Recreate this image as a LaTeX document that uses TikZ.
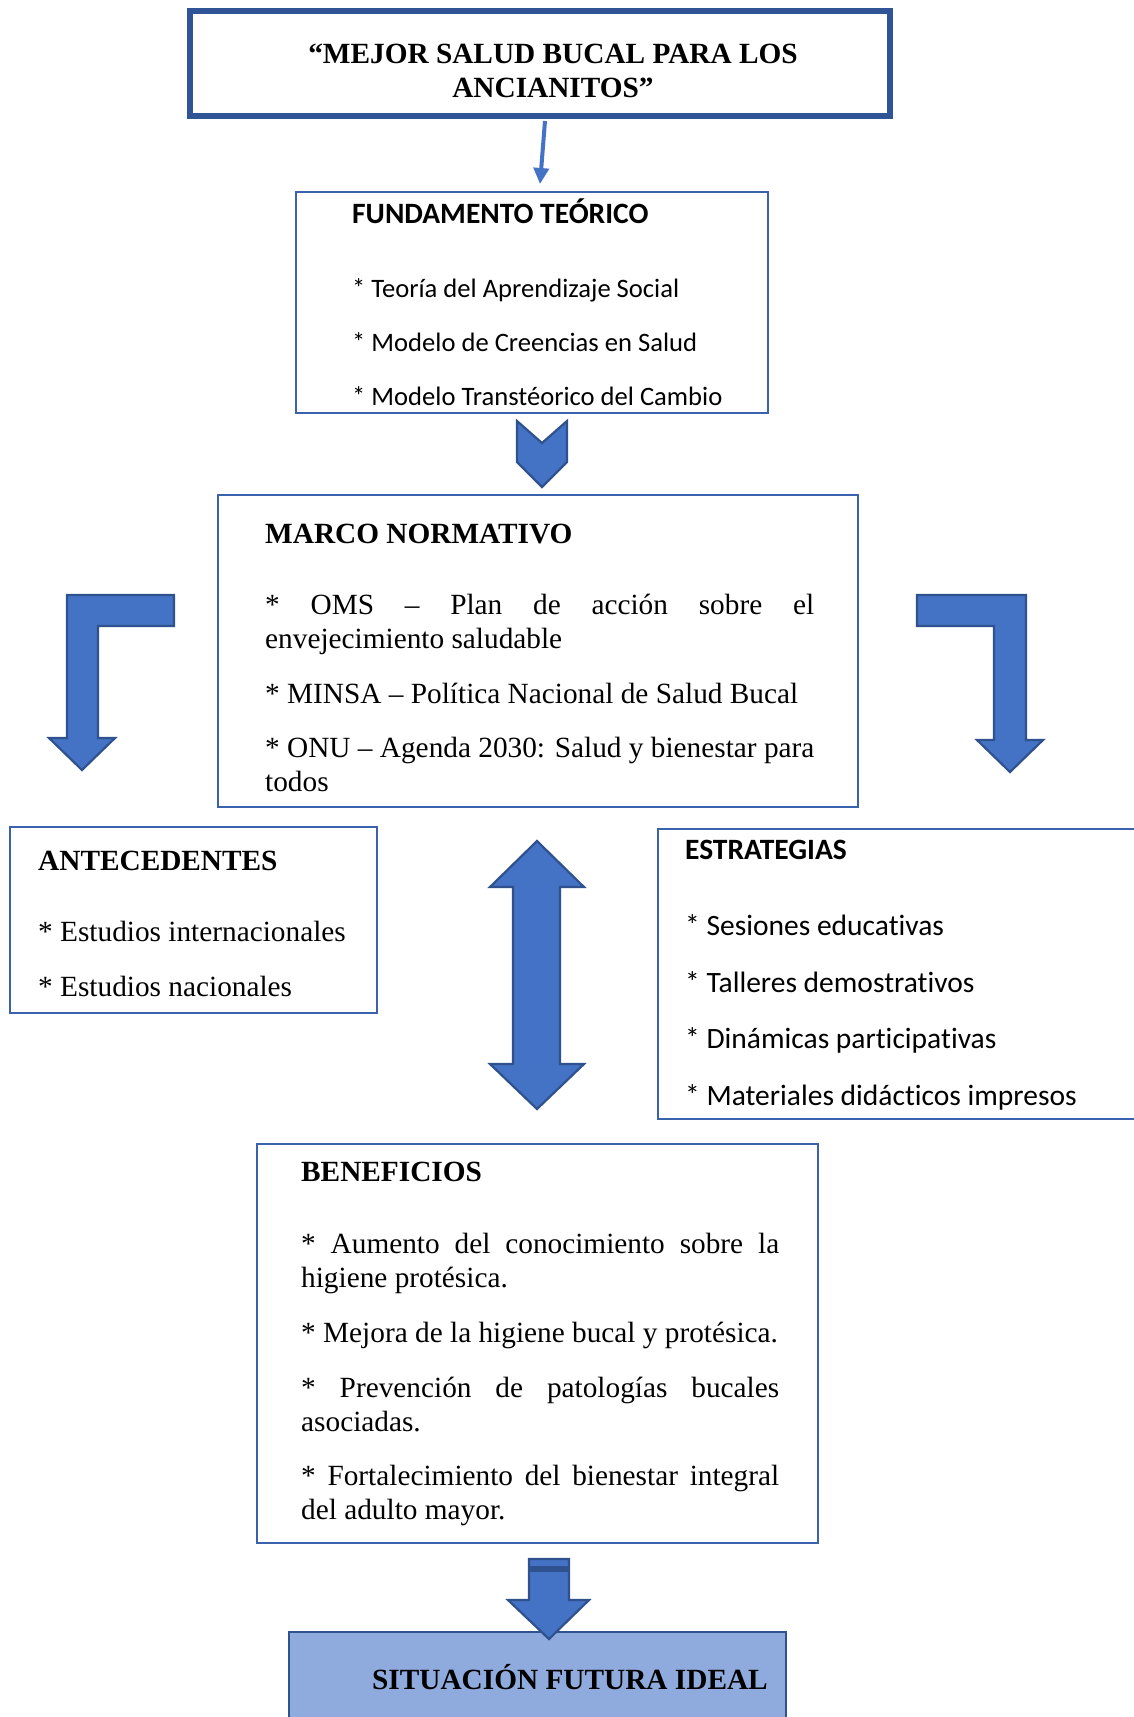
\documentclass[tikz,border=0pt]{standalone}
\usepackage{fontspec}
\setmainfont{Liberation Serif}
\newfontfamily\calibrifont[Ligatures=NoCommon]{Carlito}
\usetikzlibrary{calc,arrows.meta}
\definecolor{arrowblue}{HTML}{4472C4}
\definecolor{arrowdark}{HTML}{2F528F}
\definecolor{boxblue}{HTML}{3A62AD}
\definecolor{titleblue}{HTML}{2F5597}
\definecolor{sitfill}{HTML}{8FAADC}
\begin{document}
\begin{tikzpicture}[x=1pt,y=-1pt,
  tnr/.style={font=\fontsize{29.3}{33.7}\selectfont, anchor=base west, inner sep=0},
  tnrb/.style={font=\fontsize{29.3}{33.7}\selectfont\bfseries, anchor=base west, inner sep=0},
  tnrc/.style={font=\fontsize{29.3}{33.7}\selectfont\bfseries, anchor=base, inner sep=0},
  cal/.style={font=\calibrifont\fontsize{29.5}{35}\selectfont, anchor=base west, inner sep=0},
  calsmall/.style={font=\calibrifont\fontsize{26.6}{32}\selectfont, anchor=base west, inner sep=0},
  calb/.style={font=\calibrifont\fontsize{29.5}{35}\selectfont\bfseries, anchor=base west, inner sep=0},
  box/.style={draw=boxblue, line width=2.2pt, rectangle, inner sep=0, outer sep=0},
  barrow/.style={fill=arrowblue, draw=arrowdark, line width=2.2pt, line join=miter}]
\clip (0,0) rectangle (1134,1717);
\fill[white] (0,0) rectangle (1134,1717);

% boxes
\node[box, draw=titleblue, line width=6pt, minimum width=700pt, minimum height=105pt] (title) at (540,63.5) {};
\node[box, minimum width=472pt, minimum height=221pt] (fund) at (532,302.5) {};
\node[box, minimum width=640pt, minimum height=312pt] (marco) at (538,651) {};
\node[box, minimum width=367pt, minimum height=186pt] (ante) at (193.5,920) {};
\node[box, minimum width=487pt, minimum height=290pt] (estr) at (901.5,974) {};
\node[box, minimum width=561pt, minimum height=399pt] (bene) at (537.5,1343.5) {};
\node[box, draw=arrowdark, fill=sitfill, minimum width=497pt, minimum height=98pt] (sit) at (537.5,1681) {};

% thin connector
\draw[draw=arrowblue, line width=4pt, -{Triangle[length=16pt,width=15pt]}]
  ($(title.south)+(5,5)$) coordinate (c1) -- ($(fund.north)+(8,-8)$) coordinate (c2);

% title text
\node[tnrc] (t1) at (553,63) {“MEJOR SALUD BUCAL PARA LOS};
\node[tnrc] (t2) at (553,97) {ANCIANITOS”};

% fundamento
\node[calb] (f0) at (352,223) {FUNDAMENTO TEÓRICO};
\node[calsmall] (f1) at (352,297) {* Teoría del Aprendizaje Social};
\node[calsmall] (f2) at (352,351) {* Modelo de Creencias en Salud};
\node[calsmall] (f3) at (352,405) {* Modelo Transtéorico del Cambio};

% chevron
\path[barrow] (517,421) -- (542,443) -- (567,421) -- (567,462) -- (542,487) -- (517,462) -- cycle;

% marco normativo
\node[tnrb] (m0) at (265,543) {MARCO NORMATIVO};
\node[tnr] (m1) at (265,614) {\makebox[549pt][s]{* OMS – Plan de acción sobre el}};
\node[tnr] (m2) at (265,648) {envejecimiento saludable};
\node[tnr] (m3) at (265,703) {* MINSA – Política Nacional de Salud Bucal};
\node[tnr] (m4) at (265,757) {* ONU – Agenda 2030: Salud y bienestar para};
\node[tnr] (m5) at (265,791) {todos};

% bent arrows
\path[barrow] (67,595) -- (174,595) -- (174,626) -- (98,626) -- (98,738) -- (115,738) -- (82,770) -- (49,738) -- (67,738) -- cycle;
\path[barrow] (917,595) -- (1026,595) -- (1026,740) -- (1043,740) -- (1010,772) -- (977,740) -- (994,740) -- (994,626) -- (917,626) -- cycle;

% antecedentes
\node[tnrb] (a0) at (38,870) {ANTECEDENTES};
\node[tnr] (a1) at (38,941) {* Estudios internacionales};
\node[tnr] (a2) at (38,996) {* Estudios nacionales};

% double arrow
\path[barrow] (537,841) -- (584,887) -- (560,887) -- (560,1064) -- (584,1064) -- (537,1109) -- (490,1064) -- (513,1064) -- (513,887) -- (490,887) -- cycle;

% estrategias
\node[calb] (e0) at (685,859) {ESTRATEGIAS};
\node[cal] (e1) at (685,935) {* Sesiones educativas};
\node[cal] (e2) at (685,992) {* Talleres demostrativos};
\node[cal] (e3) at (685,1048) {* Dinámicas participativas};
\node[cal] (e4) at (685,1105) {* Materiales didácticos impresos};

% beneficios
\node[tnrb] (b0) at (301,1181) {BENEFICIOS};
\node[tnr] (b1) at (301,1253) {\makebox[478pt][s]{* Aumento del conocimiento sobre la}};
\node[tnr] (b2) at (301,1287) {higiene protésica.};
\node[tnr] (b3) at (301,1342) {* Mejora de la higiene bucal y protésica.};
\node[tnr] (b4) at (301,1397) {\makebox[478pt][s]{* Prevención de patologías bucales}};
\node[tnr] (b5) at (301,1431) {asociadas.};
\node[tnr] (b6) at (301,1485) {\makebox[478pt][s]{* Fortalecimiento del bienestar integral}};
\node[tnr] (b7) at (301,1519) {del adulto mayor.};

% bottom arrow
\path[barrow] (529,1559) -- (569,1559) -- (569,1600) -- (589,1600) -- (549,1639) -- (508,1600) -- (529,1600) -- cycle;
\fill[arrowdark] (529,1566) rectangle (569,1572);

% situacion
\node[tnrb] (s0) at (372,1689) {SITUACIÓN FUTURA IDEAL};
\end{tikzpicture}
\end{document}
